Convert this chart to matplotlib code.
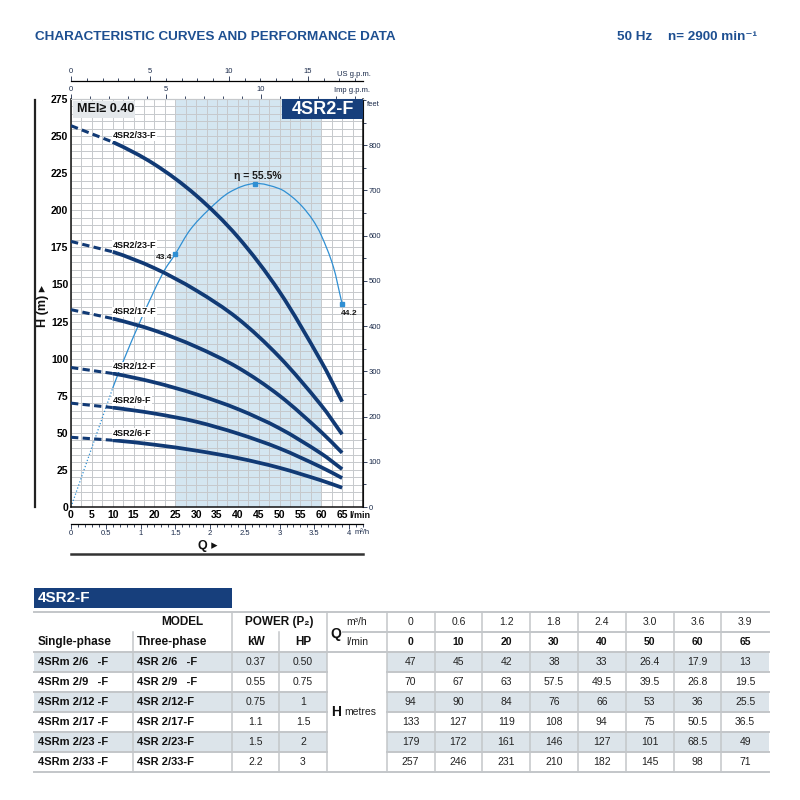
import matplotlib
matplotlib.use("Agg")
import matplotlib.pyplot as plt
from matplotlib.patches import Rectangle, PathPatch
from matplotlib.path import Path
from matplotlib.ticker import MultipleLocator, FixedLocator, FuncFormatter

plt.rcParams['font.family'] = ['Liberation Sans Narrow', 'Liberation Sans', 'DejaVu Sans']

NAVY = '#173f7c'
CURVE = '#113a75'
EFFC = '#2f8fd3'
TITLE = '#1d4f91'
GRID = '#c6c9cc'
LINE = '#c3c6c9'

# ---- data read from the sheet ----
stages = [6, 9, 12, 17, 23, 33]
q_lmin = [0, 10, 20, 30, 40, 50, 60, 65]
q_m3h = ['0', '0.6', '1.2', '1.8', '2.4', '3.0', '3.6', '3.9']
head = [
    [47, 45, 42, 38, 33, 26.4, 17.9, 13],
    [70, 67, 63, 57.5, 49.5, 39.5, 26.8, 19.5],
    [94, 90, 84, 76, 66, 53, 36, 25.5],
    [133, 127, 119, 108, 94, 75, 50.5, 36.5],
    [179, 172, 161, 146, 127, 101, 68.5, 49],
    [257, 246, 231, 210, 182, 145, 98, 71],
]
single_phase = ['4SRm 2/6   -F', '4SRm 2/9   -F', '4SRm 2/12 -F',
                '4SRm 2/17 -F', '4SRm 2/23 -F', '4SRm 2/33 -F']
three_phase = ['4SR 2/6   -F', '4SR 2/9   -F', '4SR 2/12-F',
               '4SR 2/17-F', '4SR 2/23-F', '4SR 2/33-F']
power_kw = ['0.37', '0.55', '0.75', '1.1', '1.5', '2.2']
power_hp = ['0.50', '0.75', '1', '1.5', '2', '3']

# efficiency curve (percent)
eff_q = [0, 10, 16, 22, 25, 28.5, 33, 38, 44, 50, 53, 55.5, 58, 60, 62.9, 65]
eff_pct = [0, 20.4, 30.9, 40.1, 43.4, 47.5, 51.0, 54.0, 55.5, 54.6,
           53.2, 51.5, 49.2, 46.6, 41.2, 34.8]
eff_marks = [25, 44, 65]
EFF_TOP = 70  # efficiency scale 0..70 % spans the H axis 0..275 m
H_TOP = 275

us_ticks = [0, 5, 10, 15]
imp_ticks = [0, 5, 10]
m3h_ticks = [0, 0.5, 1, 1.5, 2, 2.5, 3, 3.5, 4]
ft_ticks = [0, 100, 200, 300, 400, 500, 600, 700, 800]


def slopes(xs, ys):
    m = []
    for i in range(len(xs)):
        a, b = max(i - 1, 0), min(i + 1, len(xs) - 1)
        m.append((ys[b] - ys[a]) / (xs[b] - xs[a]))
    return m


def smooth(xs, ys, m, **kw):
    # draw the polyline as a smooth bezier path through the read points
    verts = [(xs[0], ys[0])]
    codes = [Path.MOVETO]
    for i in range(len(xs) - 1):
        dx = xs[i + 1] - xs[i]
        verts += [(xs[i] + dx / 3, ys[i] + m[i] * dx / 3),
                  (xs[i + 1] - dx / 3, ys[i + 1] - m[i + 1] * dx / 3),
                  (xs[i + 1], ys[i + 1])]
        codes += [Path.CURVE4] * 3
    return PathPatch(Path(verts, codes), fill=False, **kw)


fig = plt.figure(figsize=(8, 8), dpi=100)
PX = 1 / 800

# ---- chart ----
ax = fig.add_axes([71 * PX, 1 - 507 * PX, 292 * PX, 408 * PX])
ax.set_xlim(0, 70)
ax.set_ylim(0, H_TOP)
ax.axvspan(25, 60, color='#d4e6f1', zorder=0.2, lw=0)
ax.xaxis.set_major_locator(FixedLocator(q_lmin[:1] + list(range(5, 70, 5))))
ax.xaxis.set_minor_locator(MultipleLocator(2.5))
ax.yaxis.set_major_locator(MultipleLocator(25))
ax.yaxis.set_minor_locator(MultipleLocator(5))
ax.set_axisbelow(True)
ax.grid(which='both', color=GRID, lw=0.7)
ax.tick_params(which='both', length=0)
ax.tick_params(axis='both', which='major', labelsize=7.5, pad=2)
for lab in ax.get_xticklabels() + ax.get_yticklabels():
    lab.set_fontweight('bold')
for s in ['left', 'bottom', 'right']:
    ax.spines[s].set_color('#111111')
    ax.spines[s].set_linewidth(1.1)
ax.spines['top'].set_color(GRID)

k = H_TOP / EFF_TOP
eff_h = [e * k for e in eff_pct]
ax.plot(eff_q[:2], eff_h[:2], color=EFFC, lw=0.9, ls=(0, (1, 1.6)), zorder=2)
ax.add_patch(smooth(eff_q[1:], eff_h[1:], slopes(eff_q, eff_h)[1:], color=EFFC, lw=0.9, zorder=2))
mark_e = [eff_h[eff_q.index(q)] for q in eff_marks]
ax.plot(eff_marks, mark_e, 's', ms=2.6, color=EFFC, zorder=2)
ax.text(44.8, 223, 'η = 55.5%', fontsize=7.5, fontweight='bold', ha='center', va='center', color='#1a1a1a')
ax.text(24.3, mark_e[0], '43.4', fontsize=6, fontweight='bold', ha='right', va='top', color='#1a1a1a')
ax.text(64.6, mark_e[2] - 4, '44.2', fontsize=6, fontweight='bold', ha='left', va='top', color='#1a1a1a')

for n, h in zip(stages, head):
    ax.plot(q_lmin[:2], h[:2], color=CURVE, lw=2.2, ls=(0, (2.4, 1.4)), solid_capstyle='butt', zorder=3)
    ax.add_patch(smooth(q_lmin[1:], h[1:], slopes(q_lmin, h)[1:], color=CURVE, lw=2.7,
                        capstyle='butt', zorder=3))
    ax.text(10, h[1] + 1.5, f'4SR2/{n}-F', fontsize=6.5, fontweight='bold', ha='left', va='bottom',
            color='#111111', zorder=4, bbox=dict(boxstyle='square,pad=0.08', fc='white', ec='none'))

# secondary scales
us = ax.secondary_xaxis(1 + 18 / 408, functions=(lambda q: q / 3.785, lambda g: g * 3.785))
imp = ax.secondary_xaxis('top', functions=(lambda q: q / 4.546, lambda g: g * 4.546))
m3h = ax.secondary_xaxis(-17 / 408, functions=(lambda q: q * 0.06, lambda m: m / 0.06))
for sa, maj, mnr in [(us, us_ticks, 1), (imp, imp_ticks, 1), (m3h, m3h_ticks, 0.1)]:
    sa.xaxis.set_major_locator(FixedLocator(maj))
    sa.xaxis.set_minor_locator(MultipleLocator(mnr))
    sa.xaxis.set_major_formatter(FuncFormatter(lambda v, p: f'{v:g}'))
    sa.tick_params(which='both', direction='out', width=0.6, labelsize=5.5, pad=1,
                   colors='#1a2a4a')
    sa.tick_params(which='major', length=3.5)
    sa.tick_params(which='minor', length=2.5)
us.spines['top'].set_linewidth(0.9)
imp.spines['top'].set_color(GRID)
m3h.spines['bottom'].set_linewidth(0.9)
m3h.tick_params(which='minor', length=2)

ft = ax.secondary_yaxis('right', functions=(lambda h: h / 0.3048, lambda f: f * 0.3048))
ft.yaxis.set_major_locator(FixedLocator(ft_ticks))
ft.yaxis.set_minor_locator(MultipleLocator(50))
ft.yaxis.set_major_formatter(FuncFormatter(lambda v, p: f'{v:g}'))
ft.tick_params(which='both', direction='out', width=0.6, labelsize=5.5, pad=1, colors='#1a2a4a')
ft.tick_params(which='major', length=3)
ft.tick_params(which='minor', length=2)

# ---- overlay in pixel coordinates ----
ov = fig.add_axes([0, 0, 1, 1], zorder=5)
ov.set_xlim(0, 800)
ov.set_ylim(800, 0)
ov.axis('off')

ov.text(35, 37, 'CHARACTERISTIC CURVES AND PERFORMANCE DATA', fontsize=9.7, fontweight='bold',
        color=TITLE, ha='left', va='center')
ov.text(617, 37, '50 Hz', fontsize=9.7, fontweight='bold', color=TITLE, ha='left', va='center')
ov.text(668, 37, 'n= 2900 min⁻¹', fontsize=9.7, fontweight='bold', color=TITLE, ha='left', va='center')

ov.plot([35, 35], [100, 507], color='#222222', lw=1.6)
ov.text(43, 306, 'H (m) ▸', rotation=90, fontsize=9, fontweight='bold', ha='center', va='center',
        color='#111111')
ov.plot([71, 363], [554, 554], color='#333333', lw=1.8)
ov.text(208, 546, 'Q ▸', fontsize=9, fontweight='bold', ha='center', va='center', color='#111111')

ov.text(337, 74, 'US g.p.m.', fontsize=5.5, ha='left', va='center', color='#1a2a4a')
ov.text(334, 91, 'Imp g.p.m.', fontsize=5.5, ha='left', va='center', color='#1a2a4a')
ov.text(367, 104, 'feet', fontsize=5.5, ha='left', va='center', color='#1a2a4a')
ov.text(349, 515, 'l/min', fontsize=6.5, fontweight='bold', ha='left', va='center', color='#111111')
ov.text(355, 532, 'm³/h', fontsize=5.5, ha='left', va='center', color='#1a2a4a')

ov.add_patch(Rectangle((282, 99), 81, 20, fc=NAVY, ec='none'))
ov.text(322.5, 109.5, '4SR2-F', fontsize=13, fontweight='bold', color='white', ha='center', va='center')
ov.add_patch(Rectangle((73, 101), 62, 17, fc='#e4e8eb', ec='none'))
ov.text(77, 109.5, 'MEI≥ 0.40', fontsize=9, fontweight='bold', color='#111111', ha='left', va='center')

# ---- table ----
ov.add_patch(Rectangle((34, 588), 198, 20, fc=NAVY, ec='none'))
ov.text(38, 598, '4SR2-F', fontsize=11, fontweight='bold', color='white', ha='left', va='center')

top, mid, hdr = 612, 632, 651.7
row_h = 20
vx0, vw = 386.7, 47.8
right = vx0 + vw * len(q_lmin)
for i in range(len(stages)):
    if i % 2 == 0:
        y0 = hdr + i * row_h
        ov.add_patch(Rectangle((34, y0), 327 - 34, row_h, fc='#dce4ea', ec='none'))
        ov.add_patch(Rectangle((vx0, y0), right - vx0, row_h, fc='#dce4ea', ec='none'))

bottom = hdr + row_h * len(stages)
ov.plot([34, right], [top, top], color=LINE, lw=1.4)
ov.plot([343, right], [mid, mid], color=LINE, lw=1.4)
ov.plot([34, right], [hdr, hdr], color=LINE, lw=1.4)
for i in range(1, len(stages)):
    y = hdr + i * row_h
    ov.plot([34, 327], [y, y], color=LINE, lw=1.4)
    ov.plot([vx0, right], [y, y], color=LINE, lw=1.4)
ov.plot([34, right], [bottom, bottom], color=LINE, lw=1.4)
for x, y0 in [(133.3, mid), (231.7, top), (279.3, mid), (327, top)]:
    ov.plot([x, x], [y0, bottom], color=LINE, lw=1.1)
for j in range(len(q_lmin)):
    x = vx0 + j * vw
    ov.plot([x, x], [top, bottom], color=LINE, lw=1.1)

hk = dict(fontsize=8.5, fontweight='bold', color='#111111', va='center')
ov.text(182.5, 622, 'MODEL', ha='center', **hk)
ov.text(38, 642, 'Single-phase', ha='left', **hk)
ov.text(137, 642, 'Three-phase', ha='left', **hk)
ov.text(279.3, 622, 'POWER (P₂)', ha='center', **hk)
ov.text(255.5, 642, 'kW', ha='center', **hk)
ov.text(303, 642, 'HP', ha='center', **hk)
ov.text(336, 634, 'Q', ha='center', fontsize=10, fontweight='bold', color='#111111', va='center')
ov.text(346, 622, 'm³/h', ha='left', fontsize=7.5, color='#222222', va='center')
ov.text(346, 642, 'l/min', ha='left', fontsize=7.5, color='#222222', va='center')
ov.text(336, 712, 'H', ha='center', fontsize=10, fontweight='bold', color='#111111', va='center')
ov.text(344, 712, 'metres', ha='left', fontsize=7.5, color='#222222', va='center')

for j, (qm, ql) in enumerate(zip(q_m3h, q_lmin)):
    cx = vx0 + (j + 0.5) * vw
    ov.text(cx, 622, qm, ha='center', va='center', fontsize=7.5, color='#222222')
    ov.text(cx, 642, f'{ql:g}', ha='center', va='center', fontsize=7.5, fontweight='bold', color='#111111')

for i in range(len(stages)):
    cy = hdr + (i + 0.5) * row_h
    ov.text(38, cy, single_phase[i], ha='left', **dict(hk, fontsize=8))
    ov.text(137, cy, three_phase[i], ha='left', **dict(hk, fontsize=8))
    ov.text(255.5, cy, power_kw[i], ha='center', va='center', fontsize=7.5, color='#222222')
    ov.text(303, cy, power_hp[i], ha='center', va='center', fontsize=7.5, color='#222222')
    for j, v in enumerate(head[i]):
        ov.text(vx0 + (j + 0.5) * vw, cy, f'{v:g}', ha='center', va='center', fontsize=7.5, color='#222222')

fig.savefig('out.png', dpi=100)
